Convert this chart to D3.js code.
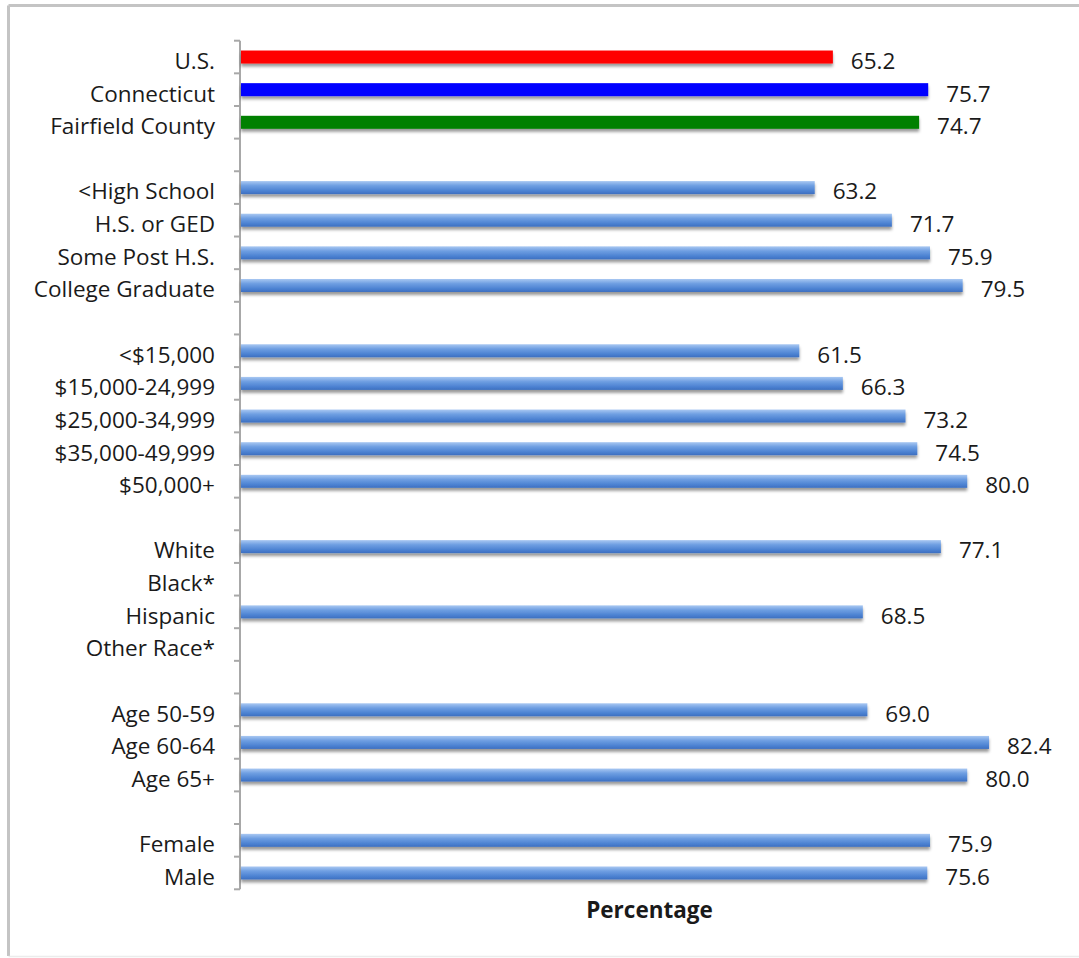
<!DOCTYPE html>
<html>
<head>
<meta charset="utf-8">
<script src="https://cdn.jsdelivr.net/npm/d3@7"></script>
<style>
  html, body { margin: 0; padding: 0; background: #fff; }
  svg { display: block; }
</style>
</head>
<body>
<svg id="chart" width="1079" height="958"></svg>
<script>
// ---- data ----
const categories = [
  "U.S.", "Connecticut", "Fairfield County", "",
  "<High School", "H.S. or GED", "Some Post H.S.", "College Graduate", "",
  "<$15,000", "$15,000-24,999", "$25,000-34,999", "$35,000-49,999", "$50,000+", "",
  "White", "Black*", "Hispanic", "Other Race*", "",
  "Age 50-59", "Age 60-64", "Age 65+", "",
  "Female", "Male"
];
const values = [
  65.2, 75.7, 74.7, null,
  63.2, 71.7, 75.9, 79.5, null,
  61.5, 66.3, 73.2, 74.5, 80.0, null,
  77.1, null, 68.5, null, null,
  69.0, 82.4, 80.0, null,
  75.9, 75.6
];
const colorKeys = [
  "us", "ct", "ff", "",
  "grp", "grp", "grp", "grp", "",
  "grp", "grp", "grp", "grp", "grp", "",
  "grp", "grp", "grp", "grp", "",
  "grp", "grp", "grp", "",
  "grp", "grp"
];
const xDomain = [0, 90];
const axisTitle = "Percentage";

// ---- drawing ----
const svg = d3.select("#chart");
const font = "'Open Sans', 'Liberation Sans', sans-serif";
const fs = 22.5;

// frame (top and left visible, bottom faint)
svg.append("line").attr("x1", 8.5).attr("x2", 1079).attr("y1", 5.5).attr("y2", 5.5)
  .attr("stroke", "#c4c4c4").attr("stroke-width", 3);
svg.append("line").attr("x1", 8.5).attr("x2", 8.5).attr("y1", 5.5).attr("y2", 956)
  .attr("stroke", "#c4c4c4").attr("stroke-width", 3);
svg.append("line").attr("x1", 8.5).attr("x2", 1079).attr("y1", 956.5).attr("y2", 956.5)
  .attr("stroke", "#ececec").attr("stroke-width", 1.5);

const defs = svg.append("defs");
const grad = defs.append("linearGradient").attr("id", "blueGrad")
  .attr("x1", 0).attr("y1", 0).attr("x2", 0).attr("y2", 1);
grad.append("stop").attr("offset", "0%").attr("stop-color", "#a9c8f2");
grad.append("stop").attr("offset", "35%").attr("stop-color", "#6f9fe2");
grad.append("stop").attr("offset", "75%").attr("stop-color", "#4c82d2");
grad.append("stop").attr("offset", "100%").attr("stop-color", "#3d6fc0");

const shadow = defs.append("filter").attr("id", "shadow")
  .attr("x", "-5%").attr("y", "-50%").attr("width", "110%").attr("height", "250%");
shadow.append("feDropShadow").attr("dx", 0).attr("dy", 3).attr("stdDeviation", 1.8)
  .attr("flood-color", "#000").attr("flood-opacity", 0.4);

const fills = { us: "#ff0000", ct: "#0000ff", ff: "#008000", grp: "url(#blueGrad)" };

const x = d3.scaleLinear().domain(xDomain).range([241, 1058]);
const y = d3.scaleBand().domain(d3.range(categories.length)).range([40.7, 889.3]).paddingInner(0);

const rows = categories.map((c, i) => ({ i, c, v: values[i], k: colorKeys[i] }));

// axis line and ticks
const axisX = 240;
svg.append("line").attr("x1", axisX).attr("x2", axisX)
  .attr("y1", y.range()[0]).attr("y2", y.range()[1])
  .attr("stroke", "#a8a8a8").attr("stroke-width", 2);
const boundaries = d3.range(categories.length + 1).map(j => y.range()[0] + j * y.step());
svg.selectAll(".tick").data(boundaries).enter().append("line")
  .attr("x1", axisX - 6).attr("x2", axisX)
  .attr("y1", d => d).attr("y2", d => d)
  .attr("stroke", "#a8a8a8").attr("stroke-width", 2);

// bars
const barH = 13;
svg.selectAll(".bar").data(rows.filter(r => r.v != null)).enter().append("rect")
  .attr("x", x(0))
  .attr("y", d => y(d.i) + y.bandwidth() / 2 - barH / 2)
  .attr("width", d => x(d.v) - x(0))
  .attr("height", barH)
  .attr("fill", d => fills[d.k])
  .attr("filter", "url(#shadow)");

// category labels
svg.selectAll(".cat").data(rows.filter(r => r.c !== "")).enter().append("text")
  .attr("x", 215)
  .attr("y", d => y(d.i) + y.bandwidth() / 2 + 4)
  .attr("dy", "0.35em")
  .attr("text-anchor", "end")
  .attr("font-family", font).attr("font-size", fs)
  .attr("fill", "#1a1a1a")
  .text(d => d.c);

// value labels
svg.selectAll(".val").data(rows.filter(r => r.v != null)).enter().append("text")
  .attr("x", d => x(d.v) + 18)
  .attr("y", d => y(d.i) + y.bandwidth() / 2 + 4)
  .attr("dy", "0.35em")
  .attr("font-family", font).attr("font-size", fs)
  .attr("fill", "#1a1a1a")
  .text(d => d3.format(".1f")(d.v));

// axis title
svg.append("text")
  .attr("x", (x.range()[0] + x.range()[1]) / 2)
  .attr("y", 918)
  .attr("text-anchor", "middle")
  .attr("font-family", font).attr("font-size", fs).attr("font-weight", "bold")
  .attr("fill", "#1a1a1a")
  .text(axisTitle);
</script>
</body>
</html>
